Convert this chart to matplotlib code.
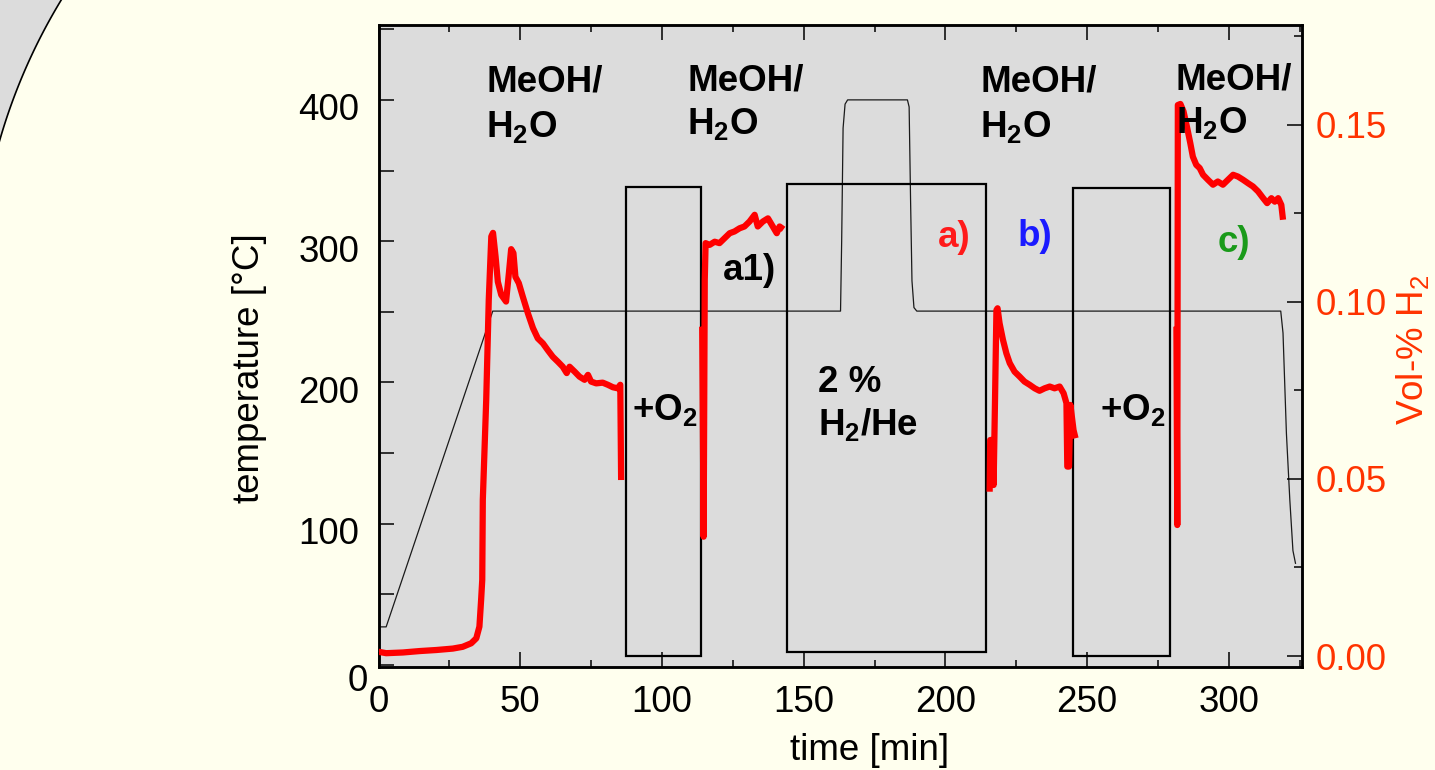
import matplotlib
matplotlib.use('Agg')
import matplotlib.pyplot as plt
import matplotlib.transforms as mtransforms
from matplotlib.ticker import MultipleLocator, FormatStrFormatter
from matplotlib.patches import Rectangle, Polygon
from matplotlib.lines import Line2D
import numpy as np

plt.rcParams['font.family'] = ['Liberation Sans', 'DejaVu Sans']
plt.rcParams['mathtext.fontset'] = 'custom'
plt.rcParams['mathtext.rm'] = 'Liberation Sans'
plt.rcParams['mathtext.it'] = 'Liberation Sans:italic'
plt.rcParams['mathtext.bf'] = 'Liberation Sans:bold'

# ---------------- data ----------------
temp_time = [0, 2.7, 40.3, 163.0, 163.4, 163.9, 164.6, 165.5, 186.6, 187.2, 187.7,
             188.2, 188.9, 189.9, 318.3, 319.1, 320.3, 321.5, 322.6, 323.5]
temp_degC = [27, 27, 250.5, 250.5, 300, 380, 397, 400, 400, 395, 330,
             272, 253, 250.5, 250.5, 235, 164, 117, 81, 72]

h2_run1_time = [0, 2.7, 8.6, 14.5, 20.4, 26.2, 29.7, 32.7, 34.5, 35.6, 36.2, 36.6,
                36.8, 38.0, 38.9, 39.8, 40.4, 41.3, 42.1, 43.3, 45.0, 46.0, 46.8,
                47.6, 48.3, 49.5, 50.9, 52.7, 54.5, 56.2, 58.0, 59.7, 61.5, 63.3,
                65.0, 66.4, 67.4, 69.2, 70.9, 72.7, 73.9, 75.0, 76.8, 79.1, 80.9,
                82.7, 84.4, 85.3, 85.6]
h2_run1_vol = [0.0012, 0.0008, 0.0010, 0.0014, 0.0017, 0.0021, 0.0026, 0.0036, 0.0050,
               0.0083, 0.0158, 0.0215, 0.0441, 0.0723, 0.1006, 0.1185, 0.1195, 0.1128,
               0.1057, 0.1020, 0.1001, 0.1081, 0.1149, 0.1138, 0.1071, 0.1053, 0.1015,
               0.0968, 0.0926, 0.0897, 0.0883, 0.0864, 0.0845, 0.0831, 0.0817, 0.0799,
               0.0817, 0.0803, 0.0789, 0.0780, 0.0794, 0.0775, 0.0770, 0.0772, 0.0766,
               0.0759, 0.0756, 0.0766, 0.0497]

h2_run2_time = [114.2, 114.7, 115.1, 115.4, 116.8, 118.6, 120.3, 122.1, 123.9, 125.6,
                127.4, 129.1, 130.9, 132.7, 133.8, 135.6, 137.4, 139.1, 140.5, 141.5,
                142.9]
h2_run2_vol = [0.0930, 0.0337, 0.1062, 0.1166, 0.1161, 0.1170, 0.1166, 0.1180, 0.1194,
               0.1199, 0.1208, 0.1213, 0.1227, 0.1246, 0.1213, 0.1227, 0.1236, 0.1213,
               0.1194, 0.1213, 0.1205]

h2_run3_time = [215.6, 215.8, 216.5, 217.0, 217.5, 218.0, 218.4, 219.1, 220.3, 221.5,
                222.7, 224.4, 226.2, 227.9, 229.7, 231.5, 233.2, 235.0, 236.8, 238.5,
                240.3, 241.7, 242.7, 243.0, 243.6, 244.1, 245.2, 245.9]
h2_run3_vol = [0.0464, 0.0610, 0.0610, 0.0483, 0.0723, 0.0977, 0.0982, 0.0940, 0.0893,
               0.0855, 0.0827, 0.0803, 0.0789, 0.0775, 0.0766, 0.0756, 0.0749, 0.0756,
               0.0761, 0.0756, 0.0761, 0.0742, 0.0714, 0.0535, 0.0535, 0.0709, 0.0638,
               0.0615]

h2_run4_time = [281.5, 281.8, 282.0, 282.9, 284.0, 285.2, 286.4, 287.3, 288.5, 289.7,
                290.9, 292.6, 294.4, 296.1, 297.9, 299.7, 301.5, 303.2, 305.0, 306.8,
                308.5, 310.3, 312.1, 313.5, 315.0, 316.2, 317.4, 318.5, 319.1]
h2_run4_vol = [0.0930, 0.0370, 0.1556, 0.1559, 0.1538, 0.1495, 0.1448, 0.1410, 0.1387,
               0.1378, 0.1359, 0.1345, 0.1331, 0.1340, 0.1331, 0.1345, 0.1359, 0.1354,
               0.1345, 0.1335, 0.1326, 0.1312, 0.1293, 0.1279, 0.1293, 0.1283, 0.1293,
               0.1274, 0.1232]

# gas-phase intervals (time start, time end)
o2_phase1 = [87.2, 113.9]
h2he_phase = [144.1, 214.4]
o2_phase2 = [245.0, 279.1]

x_ticks_major = 50
y_ticks_major = 100

# ---------------- styling ----------------
FIG_BG = '#FFFFEE'
AX_BG = '#DCDCDC'
RIGHT_C = '#FF3300'
FS = 26.5

W, H = 1435, 770
fig = plt.figure(figsize=(W / 100, H / 100), dpi=100, facecolor=FIG_BG)

# decorative grey arc in the upper-left corner
cx, cy, R = 557.0, 301.0, 580.0
ys = np.linspace(-5, 150, 80)
xs = cx - np.sqrt(R ** 2 - (ys - cy) ** 2)
poly = [(-10, -10)] + list(zip(xs, ys)) + [(-10, 150)]
poly_fig = [(x / W, 1 - y / H) for x, y in poly]
fig.add_artist(Polygon(poly_fig, closed=True, transform=fig.transFigure,
                       facecolor=AX_BG, edgecolor='none', zorder=0))
fig.add_artist(Line2D(xs / W, 1 - ys / H, transform=fig.transFigure,
                      color='black', lw=1.2, zorder=0.5))

L, B, Rr, T = 378.5, 667, 1302, 25
ax = fig.add_axes([L / W, 1 - B / H, (Rr - L) / W, (B - T) / H])
ax.set_facecolor(AX_BG)
ax.set_xlim(0, 325.8)
ax.set_ylim(-1.4, 453)

ax2 = ax.twinx()
ax2.set_ylim(-0.0031, 0.1782)

# temperature
ax.plot(temp_time, temp_degC, color='#1a1a1a', lw=0.9, zorder=2)

# boxes marking gas phases
box_lo, box_hi = 6.4, 338.0
for (t0, t1), lo, hi in [(o2_phase1, box_lo, box_hi),
                         (h2he_phase, 9.0, 340.2),
                         (o2_phase2, box_lo, 337.4)]:
    ax.add_patch(Rectangle((t0, lo), t1 - t0, hi - lo, fill=False,
                           edgecolor='black', lw=1.6, zorder=3))

# H2 signal
for tt, vv in [(h2_run1_time, h2_run1_vol), (h2_run2_time, h2_run2_vol),
               (h2_run3_time, h2_run3_vol), (h2_run4_time, h2_run4_vol)]:
    ax2.plot(tt, vv, color='#FF0000', lw=4.5, solid_joinstyle='round',
             solid_capstyle='butt', zorder=3)

# annotations
tb = dict(fontsize=FS, fontweight='bold', ha='left', va='baseline',
          transform=ax.transData, zorder=5)
for t0, b1, b2 in [(38.1, 405.7, 373.7), (108.9, 406.9, 375.8),
                   (212.3, 405.7, 373.9), (281.2, 407.4, 376.3)]:
    ax2.text(t0, b1, 'MeOH/', **tb)
    ax2.text(t0, b2, r'H$_\mathbf{2}$O', **tb)
ax2.text(89.6, 173.4, r'+O$_\mathbf{2}$', **tb)
ax2.text(254.4, 173.4, r'+O$_\mathbf{2}$', **tb)
ax2.text(154.9, 193.2, '2 %', **tb)
ax2.text(154.9, 162.8, r'H$_\mathbf{2}$/He', **tb)
ax2.text(121.5, 272.5, 'a1)', **tb)
ax2.text(197.2, 295.8, 'a)', color='#FF1A1A', **tb)
ax2.text(225.6, 296.5, 'b)', color='#1A1AFF', **tb)
ax2.text(296.2, 292.5, 'c)', color='#1A9A1A', **tb)

# axes, ticks
for s in ax.spines.values():
    s.set_linewidth(1.8)
for s in ax2.spines.values():
    s.set_linewidth(1.8)

ax.xaxis.set_major_locator(MultipleLocator(x_ticks_major))
ax.xaxis.set_minor_locator(MultipleLocator(x_ticks_major / 2))
ax.yaxis.set_major_locator(MultipleLocator(y_ticks_major))
ax.yaxis.set_minor_locator(MultipleLocator(y_ticks_major / 2))
ax.tick_params(axis='x', which='both', direction='in', top=True, bottom=True, width=1.1)
ax.tick_params(axis='x', which='major', length=10.8, labelsize=FS, pad=13)
ax.tick_params(axis='x', which='minor', length=5)
ax.tick_params(axis='y', which='both', direction='in', left=True, right=False,
               length=10.8, width=1.1)
ax.tick_params(axis='y', which='major', labelsize=FS, pad=14)

ax2.yaxis.set_major_locator(MultipleLocator(0.05))
ax2.yaxis.set_minor_locator(MultipleLocator(0.025))
ax2.yaxis.set_major_formatter(FormatStrFormatter('%.2f'))
ax2.tick_params(axis='y', which='both', direction='in', width=1.1)
ax2.tick_params(axis='y', which='major', length=10.8, labelsize=FS, pad=9.5,
                labelcolor=RIGHT_C)
ax2.tick_params(axis='y', which='minor', length=5.5)

ax.set_xlabel('time [min]', fontsize=FS)
ax.xaxis.set_label_coords((870 - L) / (Rr - L), (B - 750) / (B - T))
ax.xaxis.label.set_va('center')
ax.set_ylabel('temperature [°C]', fontsize=FS)
ax.yaxis.set_label_coords((249 - L) / (Rr - L), (B - 368) / (B - T))
ax.yaxis.label.set_va('center')
ax2.set_ylabel('Vol-% H$_2$', fontsize=FS, color=RIGHT_C, rotation=90)
ax2.yaxis.set_label_coords((1413 - L) / (Rr - L), (B - 350) / (B - T))
ax2.yaxis.label.set_va('center')
ax2.yaxis.label.set_ha('center')

fig.canvas.draw()
for lab in ax.get_yticklabels():
    off = mtransforms.ScaledTranslation(0, -7 / 100, fig.dpi_scale_trans)
    if lab.get_text() in ('0', '−0'):
        off = mtransforms.ScaledTranslation(9 / 100, -12 / 100, fig.dpi_scale_trans)
    lab.set_transform(lab.get_transform() + off)

fig.savefig('out.png', dpi=100, facecolor=FIG_BG)
